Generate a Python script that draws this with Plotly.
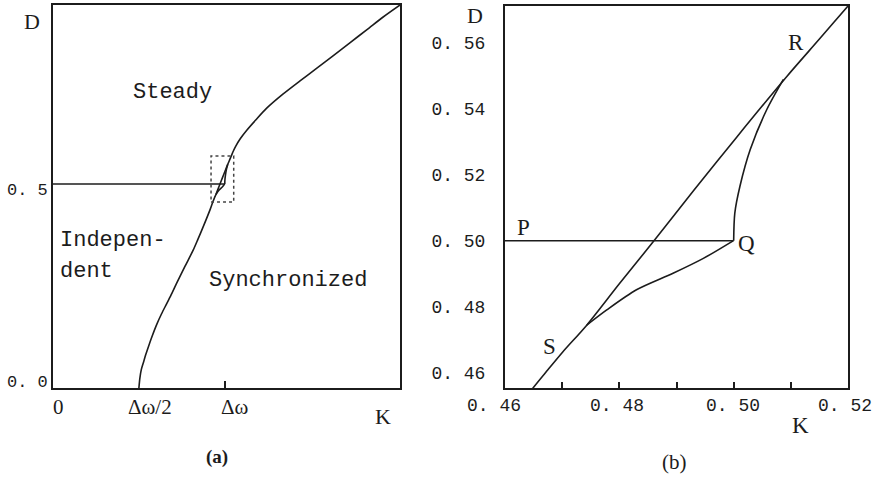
import plotly.graph_objects as go

# Phase boundary D(K) between the steady and the synchronized regimes
K_boundary = [0.250, 0.253, 0.257, 0.263, 0.270, 0.278, 0.289, 0.302, 0.316, 0.331,
              0.346, 0.360, 0.384, 0.408, 0.422, 0.437, 0.4575, 0.4649, 0.4675,
              0.4701, 0.4743, 0.4800, 0.4862, 0.4930, 0.5006, 0.5093, 0.5150, 0.5200,
              0.525, 0.532, 0.545, 0.564, 0.590, 0.622, 0.670, 0.719, 0.768, 0.816,
              0.865, 0.913, 0.960, 1.010]
D_boundary = [0.000, 0.025, 0.045, 0.062, 0.082, 0.102, 0.128, 0.156, 0.182, 0.207,
              0.232, 0.257, 0.298, 0.338, 0.365, 0.395, 0.438, 0.4555, 0.4610,
              0.4664, 0.4745, 0.4870, 0.5003, 0.5152, 0.5315, 0.5497, 0.5610, 0.5710,
              0.581, 0.593, 0.611, 0.632, 0.657, 0.686, 0.721, 0.753, 0.784, 0.815,
              0.847, 0.878, 0.909, 0.939]

# Lower branch S -> Q
K_SQ = [0.4743, 0.4778, 0.4830, 0.4894, 0.4947, 0.4999]
D_SQ = [0.4745, 0.4791, 0.4852, 0.4902, 0.4947, 0.5000]

# Upper branch Q -> R
K_QR = [0.5000, 0.5002, 0.5011, 0.5029, 0.5058, 0.5087]
D_QR = [0.5000, 0.5084, 0.5165, 0.5276, 0.5397, 0.5488]

# Line P -> Q at D = 0.5
K_PQ = [0.0, 0.5]
D_PQ = [0.5, 0.5]

# Zoom window of panel (b), marked in panel (a)
zoom_K = [0.460, 0.526]
zoom_D = [0.456, 0.569]

# Axis ranges and tick labels
range_Ka = [0, 1.01]
range_Da = [0, 0.939]
range_Kb = [0.46, 0.52]
range_Db = [0.4555, 0.571]
ticks_Kb = [0.46, 0.47, 0.48, 0.49, 0.50, 0.51, 0.52]
labels_Kb = [0.46, 0.48, 0.50, 0.52]
labeltext_Kb = ["0. 46", "0. 48", "0. 50", "0. 52"]
ticks_Db = [0.46, 0.48, 0.50, 0.52, 0.54, 0.56]
ticktext_Db = ["0. 46", "0. 48", "0. 50", "0. 52", "0. 54", "0. 56"]
labels_Da = [0.0, 0.5]
labeltext_Da = ["0. 0", "0. 5"]
labels_Ka = [0.0, 0.25, 0.5]
labeltext_Ka = ["0", "Δω/2", "Δω"]

INK = "#1c1c1c"
MONO = "Liberation Mono"
SERIF = "Liberation Serif"
W, H = 875, 485

fig = go.Figure()

for xa, ya in (("x", "y"), ("x2", "y2")):
    for kk, dd in ((K_boundary, D_boundary), (K_SQ, D_SQ), (K_QR, D_QR), (K_PQ, D_PQ)):
        fig.add_trace(go.Scatter(x=kk, y=dd, mode="lines",
                                 line=dict(color=INK, width=1.6, shape="spline",
                                           smoothing=0.8),
                                 xaxis=xa, yaxis=ya, hoverinfo="skip",
                                 showlegend=False))

fig.add_shape(type="rect", xref="x", yref="y",
              x0=zoom_K[0], x1=zoom_K[1], y0=zoom_D[0], y1=zoom_D[1],
              line=dict(color="#444", width=1.5, dash="dot"))

box = dict(showline=True, mirror=True, linecolor=INK, linewidth=2,
           showgrid=False, zeroline=False, automargin=False)

fig.update_layout(
    width=W, height=H,
    margin=dict(l=0, r=0, t=0, b=0),
    paper_bgcolor="white", plot_bgcolor="white",
    font=dict(family=MONO, color=INK),
    xaxis=dict(domain=[53 / W, 400 / W], range=range_Ka, tickvals=[0.5],
               ticks="inside", ticklen=7, tickwidth=1.5, tickcolor=INK,
               showticklabels=False, **box),
    yaxis=dict(domain=[1 - 388 / H, 1 - 5 / H], range=range_Da,
               showticklabels=False, ticks="", **box),
    xaxis2=dict(domain=[505 / W, 848 / W], range=range_Kb, tickvals=ticks_Kb,
                ticks="inside", ticklen=6, tickwidth=1.5, tickcolor=INK,
                showticklabels=False, anchor="y2", **box),
    yaxis2=dict(domain=[1 - 388 / H, 1 - 6 / H], range=range_Db, tickvals=ticks_Db,
                ticktext=ticktext_Db, ticks="", tickfont=dict(family=MONO, size=18),
                ticklabelstandoff=14, anchor="x2", **box),
)

# tick labels placed on the axes' own scales
for v, t, dx in zip(labels_Kb, labeltext_Kb, [-11, -2, -1, -3]):
    fig.add_annotation(text=t, x=v, y=0, xref="x2", yref="paper",
                       yshift=H - 406, xshift=dx, showarrow=False,
                       xanchor="center", yanchor="middle",
                       font=dict(family=MONO, size=18, color=INK))
for v, t, dy in zip(labels_Da, labeltext_Da, [6, -6]):
    fig.add_annotation(text=t, x=0, y=v, xref="paper", yref="y",
                       xshift=50, yshift=dy, showarrow=False,
                       xanchor="right", yanchor="middle",
                       font=dict(family=MONO, size=17, color=INK))
for v, t, dx in zip(labels_Ka, labeltext_Ka, [5, 11, 10]):
    fig.add_annotation(text=t, x=v, y=0, xref="x", yref="paper",
                       yshift=H - 407, xshift=dx, showarrow=False,
                       xanchor="center", yanchor="middle",
                       font=dict(family=SERIF, size=21, color=INK))


def label(text, x, y, size, family=MONO, bold=False):
    if bold:
        text = "<b>" + text + "</b>"
    fig.add_annotation(text=text, x=x / W, y=1 - y / H, xref="paper", yref="paper",
                       showarrow=False, xanchor="center", yanchor="middle",
                       font=dict(family=family, size=size, color=INK))


# panel (a) texts
label("D", 32, 22, 22, SERIF)
label("K", 383, 416, 22, SERIF)
label("(a)", 217, 457, 19, SERIF, bold=True)
label("Steady", 172, 92, 22)
label("Indepen-", 113, 240, 22)
label("dent", 86, 271, 22)
label("Synchronized", 288, 280, 22)

# panel (b) texts
label("D", 475, 16, 22, SERIF)
label("P", 523, 227, 23, SERIF)
label("Q", 746, 243, 23, SERIF)
label("R", 796, 42, 23, SERIF)
label("S", 549, 346, 23, SERIF)
label("K", 800, 425, 23, SERIF)
label("(b)", 674, 462, 21, SERIF)

fig.write_html("out.html")
